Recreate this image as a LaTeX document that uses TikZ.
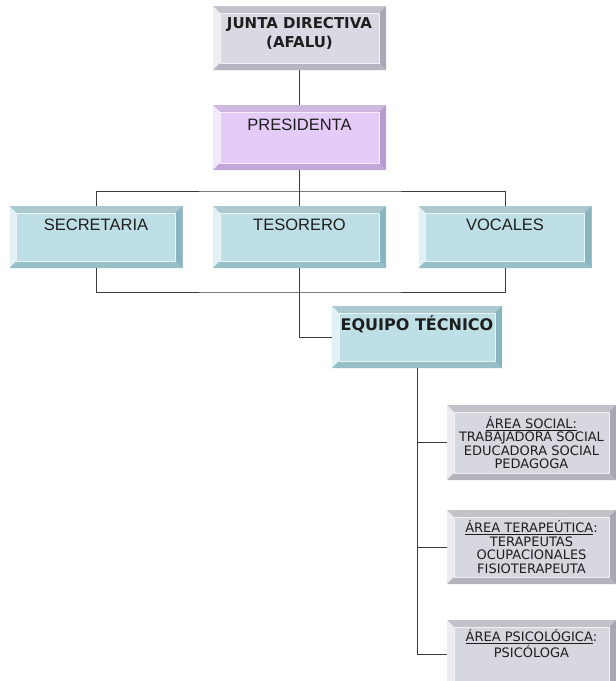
\documentclass[tikz,border=0pt]{standalone}
\usepackage{fontspec}
\setmainfont{Liberation Sans}
\newfontfamily\verdana{DejaVu Sans}
\usetikzlibrary{calc}

\definecolor{juntaface}{HTML}{D9D9E3}
\definecolor{juntadark}{HTML}{A9A9B5}
\definecolor{presface}{HTML}{E5CCF8}
\definecolor{presdark}{HTML}{B79AD0}
\definecolor{blueface}{HTML}{BEDFE5}
\definecolor{bluedark}{HTML}{8AB4BE}
\definecolor{areaface}{HTML}{D7D7DF}
\definecolor{areadark}{HTML}{A7A7AF}
\definecolor{wirecol}{HTML}{3C3C3C}
\definecolor{inkcol}{HTML}{1E1E1E}

\tikzset{
  bevel/.style 2 args={fill=#1, inner sep=0pt, text=inkcol,
    path picture={
      \path (path picture bounding box.north west) coordinate (pnw)
            (path picture bounding box.north east) coordinate (pne)
            (path picture bounding box.south west) coordinate (psw)
            (path picture bounding box.south east) coordinate (pse);
      \path ([shift={(7pt,-7pt)}]pnw) coordinate (inw)
            ([shift={(-7pt,-7pt)}]pne) coordinate (ine)
            ([shift={(7pt,7pt)}]psw) coordinate (isw)
            ([shift={(-7pt,7pt)}]pse) coordinate (ise);
      \fill[#1!90!black] (pnw) -- (pne) -- (ine) -- (inw) -- cycle;
      \fill[#1!45!white] (pnw) -- (inw) -- (isw) -- (psw) -- cycle;
      \fill[#2] (pne) -- (pse) -- (ise) -- (ine) -- cycle;
      \fill[#2!75!#1] (psw) -- (isw) -- (ise) -- (pse) -- cycle;
      \draw[white!65!#1, line width=0.8pt] (inw) rectangle (ise);
    }},
  toplabel/.style={font=\fontsize{16.5}{19}\selectfont, minimum width=173pt},
  arealabel/.style={bevel={areaface}{areadark}, align=center, minimum width=169pt,
    font=\verdana\fontsize{13}{13.5}\selectfont},
  wire/.style={draw=wirecol, line width=0.9pt},
}

\begin{document}
\begin{tikzpicture}[x=1pt,y=-1pt]
	\useasboundingbox (0,0) rectangle (616,681);
	
	%boxes
	\node[bevel={juntaface}{juntadark}, minimum width=173pt, align=center,
	      text height=41pt, text depth=23pt,
	      font=\verdana\bfseries\fontsize{15}{18.5}\selectfont] (junta) at (299.5,38) {JUNTA DIRECTIVA\\(AFALU)};
	\node[bevel={presface}{presdark}, toplabel, text height=25pt, text depth=40pt] (presidenta) at (299.5,137.5) {PRESIDENTA};
	%
	\node[bevel={blueface}{bluedark}, toplabel, text height=24pt, text depth=38pt] (secretaria) at (96,237) {SECRETARIA};
	\node[bevel={blueface}{bluedark}, toplabel, text height=24pt, text depth=38pt] (tesorero) at (299.5,237) {TESORERO};
	\node[bevel={blueface}{bluedark}, toplabel, text height=24pt, text depth=38pt] (vocales) at (505,237) {VOCALES};
	%
	\node[bevel={blueface}{bluedark}, minimum width=170pt, text height=24pt, text depth=38pt,
	      font=\verdana\bfseries\fontsize{16}{19}\selectfont] (equipo) at (417,337) {EQUIPO TÉCNICO};
	
	%areas
	\node[arealabel, minimum height=75pt] (social) at (531.5,442.5)
		{\underline{ÁREA SOCIAL:}\\TRABAJADORA SOCIAL\\EDUCADORA SOCIAL\\PEDAGOGA};
	\node[arealabel, minimum height=74pt] (terapeutica) at (531.5,547)
		{\underline{ÁREA TERAPEÚTICA}:\\TERAPEUTAS\\OCUPACIONALES\\FISIOTERAPEUTA};
	\node[arealabel, text height=37pt, text depth=31pt] (psicologica) at (531.5,654)
		{\underline{ÁREA PSICOLÓGICA}:\\PSICÓLOGA};
	
	%lines
	\coordinate (bus) at (299.5,191);
	\coordinate (tray) at (299.5,292);
	\draw[wire] (junta.south) -- (presidenta.north);
	\draw[wire] (presidenta.south) -- (tesorero.north);
	\draw[wire] (secretaria.north) |- (bus) -| (vocales.north);
	\draw[wire] (secretaria.south) |- (tray) -| (vocales.south);
	\draw[wire] (tesorero.south) |- (equipo.west);
	\draw[wire] (equipo.south) |- (psicologica.west);
	\draw[wire] (social.west) -- (social.west -| equipo.south);
	\draw[wire] (terapeutica.west) -- (terapeutica.west -| equipo.south);
\end{tikzpicture}
\end{document}
